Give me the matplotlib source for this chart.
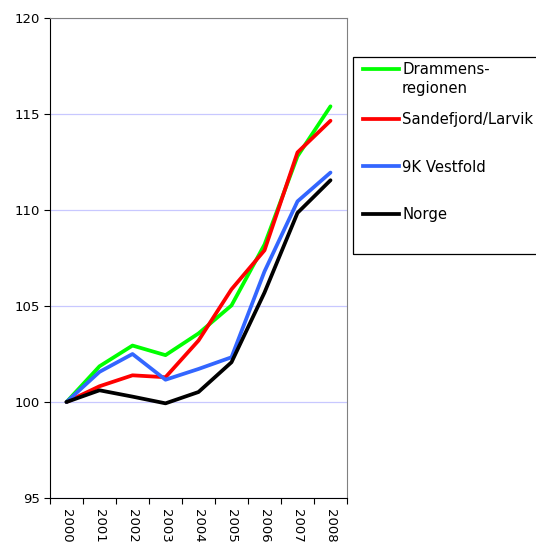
import matplotlib.pyplot as plt
from matplotlib.lines import Line2D
from matplotlib.patches import Rectangle

plt.rcParams['font.family'] = ['DejaVu Sans']

years = ['2000', '2001', '2002', '2003', '2004', '2005', '2006', '2007', '2008']
drammen = [100, 101.86, 102.94, 102.44, 103.57, 105.03, 108.2, 112.8, 115.4]
sandefjord = [100, 100.82, 101.39, 101.29, 103.2, 105.87, 107.9, 113.0, 114.65]
vestfold = [100, 101.57, 102.5, 101.16, 101.72, 102.33, 106.8, 110.45, 111.95]
norge = [100, 100.61, 100.28, 99.93, 100.52, 102.07, 105.7, 109.85, 111.55]

labels = ['Drammens-\nregionen', 'Sandefjord/Larvik', '9K Vestfold', 'Norge']
colors = ['#00ff00', '#ff0000', '#3366ff', '#000000']
series = [drammen, sandefjord, vestfold, norge]

fig = plt.figure(figsize=(5.36, 5.43), dpi=100)
ax = fig.add_axes([50 / 536, 45 / 543, 297 / 536, 480 / 543])

x = list(range(len(years)))
for vals, c in zip(series, colors):
    ax.plot(x, vals, color=c, lw=2.7, solid_capstyle='round', solid_joinstyle='round')

ax.set_ylim(95, 120)
ax.set_xlim(-0.5, len(years) - 0.5)
ax.set_yticks([95, 100, 105, 110, 115, 120])
ax.yaxis.grid(True, color='#c8c8ff', lw=0.9)
ax.set_axisbelow(True)

# ticks at category boundaries, labels at centres
ax.set_xticks([i - 0.5 for i in range(len(years) + 1)])
ax.set_xticklabels([])
ax.set_xticks(x, minor=True)
ax.set_xticklabels(years, minor=True, rotation=-90, fontsize=9.5)
ax.tick_params(axis='x', which='minor', length=0, pad=8)
ax.tick_params(axis='x', which='major', length=4, width=0.8, direction='out')
ax.tick_params(axis='y', length=4, width=0.8, direction='out', labelsize=9.5, pad=3)

for s in ['top', 'right']:
    ax.spines[s].set_color('#808080')
for s in ['left', 'bottom']:
    ax.spines[s].set_color('#000000')

# legend box, drawn like the spreadsheet one (cut off at the right edge)
W, H = 536, 543
fig.add_artist(Rectangle((353 / W, 1 - 254 / H), 200 / W, 197 / H,
                         transform=fig.transFigure, fill=False, ec='black', lw=0.9))
ys = [69, 119, 166.5, 214]
for lab, c, yy in zip(labels, colors, ys):
    fy = 1 - yy / H
    fig.add_artist(Line2D([363 / W, 399 / W], [fy, fy], transform=fig.transFigure,
                          color=c, lw=2.7))
    fig.text(402 / W, fy + 7 / H, lab, fontsize=10.7, va='top', ha='left',
             linespacing=1.35)

plt.savefig('out.png', dpi=100)
